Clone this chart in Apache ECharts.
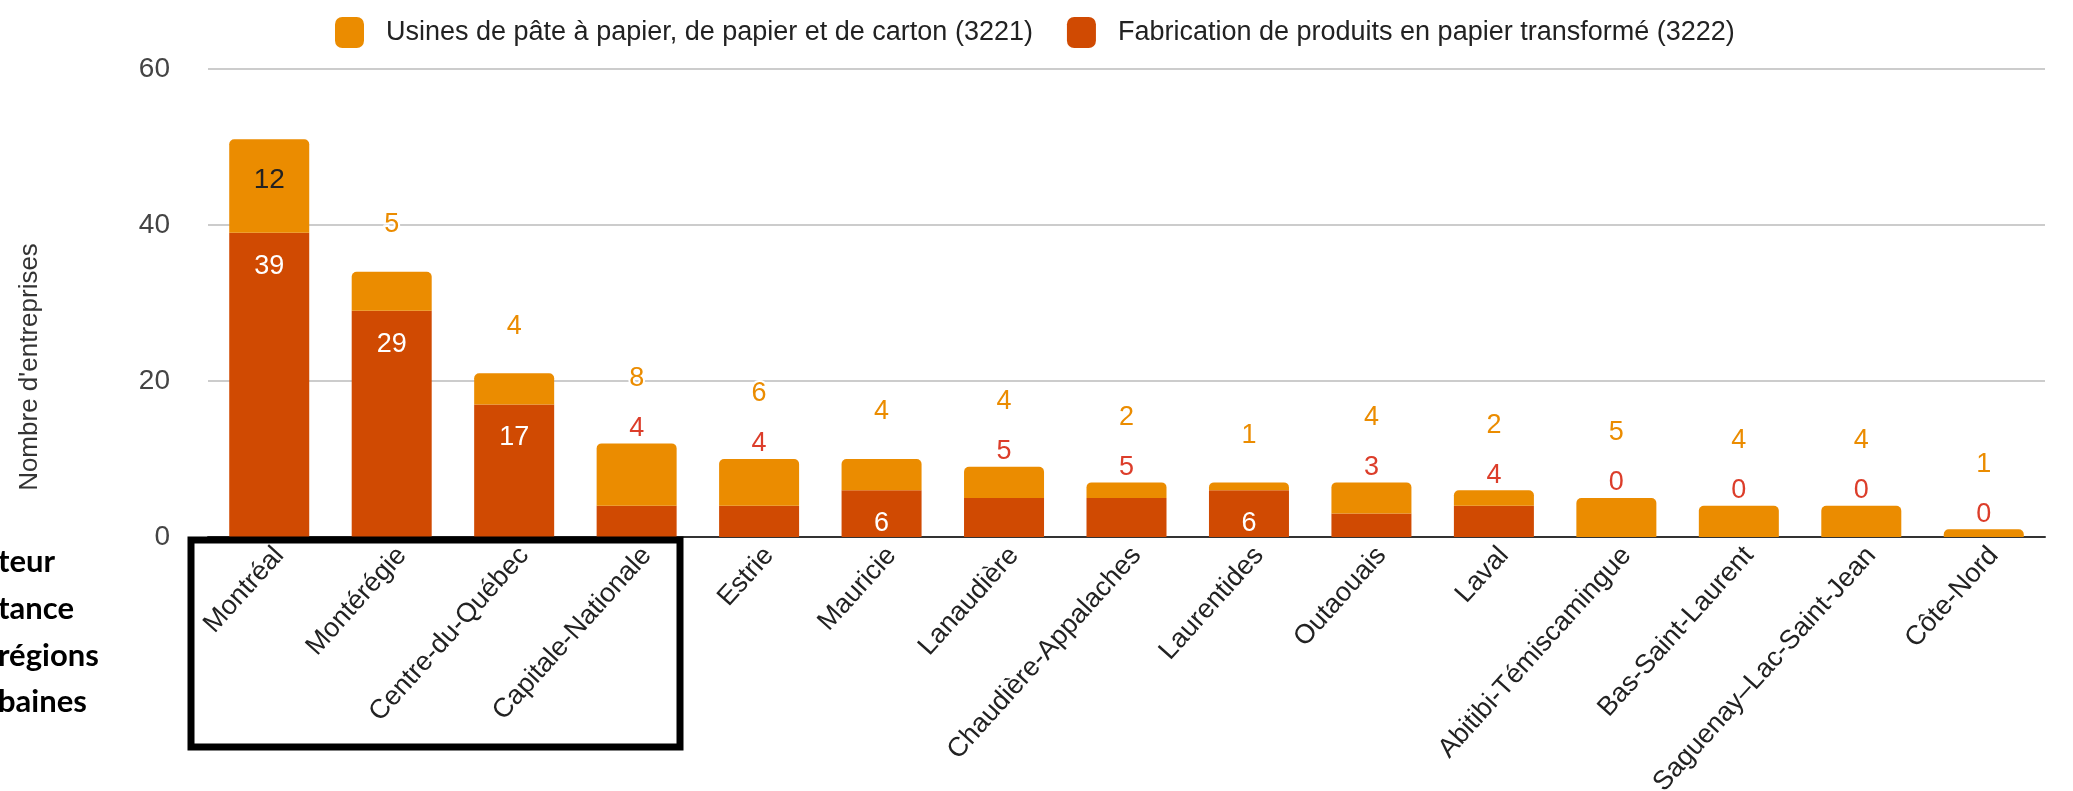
<!DOCTYPE html>
<html>
<head>
<meta charset="utf-8">
<script src="https://cdn.jsdelivr.net/npm/echarts@6/dist/echarts.min.js"></script>
<style>
  html, body { margin: 0; padding: 0; background: #fff; }
  #myChart { width: 2073px; height: 791px; }
</style>
</head>
<body>
<div id="myChart"></div>
<script>
// données
var regions = [
  'Montréal', 'Montérégie', 'Centre-du-Québec', 'Capitale-Nationale', 'Estrie',
  'Mauricie', 'Lanaudière', 'Chaudière-Appalaches', 'Laurentides', 'Outaouais',
  'Laval', 'Abitibi-Témiscamingue', 'Bas-Saint-Laurent', 'Saguenay–Lac-Saint-Jean', 'Côte-Nord'
]
var usines3221 = [12, 5, 4, 8, 6, 4, 4, 2, 1, 4, 2, 5, 4, 4, 1]
var fabrication3222 = [39, 29, 17, 4, 4, 6, 5, 5, 6, 3, 4, 0, 0, 0, 0]
var yTicks = { min: 0, max: 60, interval: 20 }
var serieNames = [
  'Usines de pâte à papier, de papier et de carton (3221)',
  'Fabrication de produits en papier transformé (3222)'
]

var ORANGE = '#EB8C00'
var ROUGE = '#D04A02'
var FONT = '"Liberation Sans", Arial, sans-serif'

// étiquettes à l'intérieur des barres quand elles y tiennent
function rougeDedans (v) { return v >= 6 }
function orangeDedans (v) { return v >= 10 }

var totals = usines3221.map(function (v, i) { return v + fabrication3222[i] })

const myChart = echarts.init(document.getElementById('myChart'))

myChart.setOption({
  animation: false,
  textStyle: { fontFamily: FONT },
  legend: {
    data: serieNames,
    left: 330,
    top: 12,
    icon: 'roundRect',
    itemWidth: 29,
    itemHeight: 31,
    itemGap: 34,
    textStyle: { fontSize: 27, color: '#222', fontFamily: FONT, padding: [0, 0, 0, 17] }
  },
  grid: {
    left: 208,
    right: 28,
    top: 69,
    bottom: 254,
    containLabel: false,
    outerBoundsMode: 'none'
  },
  xAxis: {
    type: 'category',
    data: regions,
    axisTick: { show: false },
    axisLine: { lineStyle: { color: '#333', width: 2 } },
    axisLabel: {
      interval: 0,
      rotate: 48,
      margin: 5,
      verticalAlign: 'top',
      fontSize: 27,
      color: '#222',
      fontFamily: FONT
    }
  },
  yAxis: {
    type: 'value',
    min: yTicks.min,
    max: yTicks.max,
    interval: yTicks.interval,
    axisLine: { show: false },
    axisTick: { show: false },
    axisLabel: { fontSize: 28, color: '#444', margin: 38, fontFamily: FONT },
    splitLine: { lineStyle: { color: '#ccc', width: 2 } }
  },
  series: [
    {
      name: serieNames[1],
      type: 'bar',
      stack: 'total',
      barWidth: 80,
      itemStyle: { color: ROUGE },
      data: fabrication3222.map(function (v) {
        return {
          value: v,
          label: {
            show: rougeDedans(v),
            position: 'insideTop',
            distance: 20,
            color: '#fff',
            fontSize: 27,
            fontFamily: FONT
          }
        }
      })
    },
    {
      name: serieNames[0],
      type: 'bar',
      stack: 'total',
      barWidth: 80,
      itemStyle: { color: ORANGE, borderRadius: [5, 5, 0, 0] },
      data: usines3221.map(function (v) {
        return {
          value: v,
          label: {
            show: orangeDedans(v),
            position: 'insideTop',
            distance: 27,
            color: '#222',
            fontSize: 28,
            fontFamily: FONT
          }
        }
      })
    },
    {
      // série invisible pour les annotations au-dessus des barres
      type: 'bar',
      barWidth: 80,
      barGap: '-100%',
      silent: true,
      z: 5,
      itemStyle: { color: 'rgba(0,0,0,0)' },
      data: totals.map(function (t, i) {
        var o = usines3221[i]
        var r = fabrication3222[i]
        var parts = []
        if (!orangeDedans(o)) parts.push('{o|' + o + '}')
        if (!rougeDedans(r)) parts.push('{r|' + r + '}')
        return {
          value: t,
          label: {
            show: parts.length > 0,
            position: 'top',
            distance: parts.length > 1 ? -10 : 22,
            formatter: parts.join('\n'),
            rich: {
              o: { color: ORANGE, fontSize: 27, lineHeight: 50, fontFamily: FONT, textBorderColor: '#fff', textBorderWidth: 4 },
              r: { color: '#DC3D2A', fontSize: 27, lineHeight: 50, fontFamily: FONT, textBorderColor: '#fff', textBorderWidth: 4 }
            }
          }
        }
      })
    }
  ],
  graphic: [
    {
      type: 'text',
      x: 30,
      y: 367,
      rotation: Math.PI / 2,
      style: {
        text: "Nombre d'entreprises",
        fontSize: 26,
        fontFamily: FONT,
        fill: '#333',
        textAlign: 'center',
        textVerticalAlign: 'middle'
      }
    },
    { type: 'text', x: -2, y: 562, style: { text: 'teur', font: 'bold 31px Lato', fill: '#000', textVerticalAlign: 'middle' } },
    { type: 'text', x: -2, y: 609, style: { text: 'tance', font: 'bold 31px Lato', fill: '#000', textVerticalAlign: 'middle' } },
    { type: 'text', x: -2, y: 656, style: { text: 'régions', font: 'bold 31px Lato', fill: '#000', textVerticalAlign: 'middle' } },
    { type: 'text', x: -2, y: 702, style: { text: 'baines', font: 'bold 31px Lato', fill: '#000', textVerticalAlign: 'middle' } },
    {
      type: 'rect',
      z: 100,
      shape: { x: 191, y: 540, width: 489, height: 207 },
      style: { fill: 'none', stroke: '#000', lineWidth: 7 }
    }
  ]
})
</script>
</body>
</html>
